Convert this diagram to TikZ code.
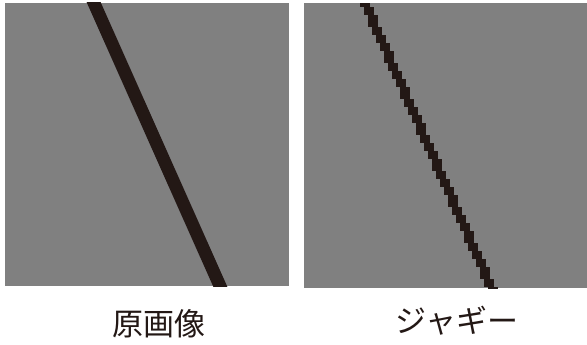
\documentclass[tikz,border=0pt]{standalone}
\usepackage{fontspec}
\usetikzlibrary{calc}
\newfontfamily\cjk{Noto Sans CJK JP}
\definecolor{panelgray}{HTML}{808080}
\definecolor{inkline}{HTML}{231815}
\definecolor{labeltext}{HTML}{231815}
\begin{document}
\begin{tikzpicture}[x=1pt,y=-1pt,
  panel/.style={fill=panelgray,draw=none},
  lbl/.style={font=\cjk\fontsize{31}{31}\selectfont,text=labeltext,inner sep=0pt,anchor=center}]
\useasboundingbox (0,0) rectangle (587,345);
% left panel
\fill[panel] (5,3) rectangle (288.5,286);
\coordinate (la) at (94,3);
\coordinate (lb) at (220,286);
\begin{scope}
\clip (5,3) rectangle (288.5,286);
\draw[inkline,line width=12.8pt] ($(la)!-0.05!(lb)$) -- ($(lb)!-0.05!(la)$);
\end{scope}
% right panel
\fill[panel] (304,3) rectangle (587,288);
\begin{scope}
\clip (304,3) rectangle (587,288);
\foreach \i in {0,...,71}{
  \pgfmathsetmacro{\yy}{3+4*\i}
  \pgfmathsetmacro{\cx}{365+0.4437*(4*\i+2)}
  \pgfmathsetmacro{\xl}{4*round((\cx-5)/4)}
  \fill[inkline] (\xl,\yy) rectangle ({\xl+10},{\yy+4.05});
}
\end{scope}
\node[lbl] (orig) at (159,324) {原画像};
\node[lbl] (jag) at (457,321) {ジャギー};
\end{tikzpicture}
\end{document}
